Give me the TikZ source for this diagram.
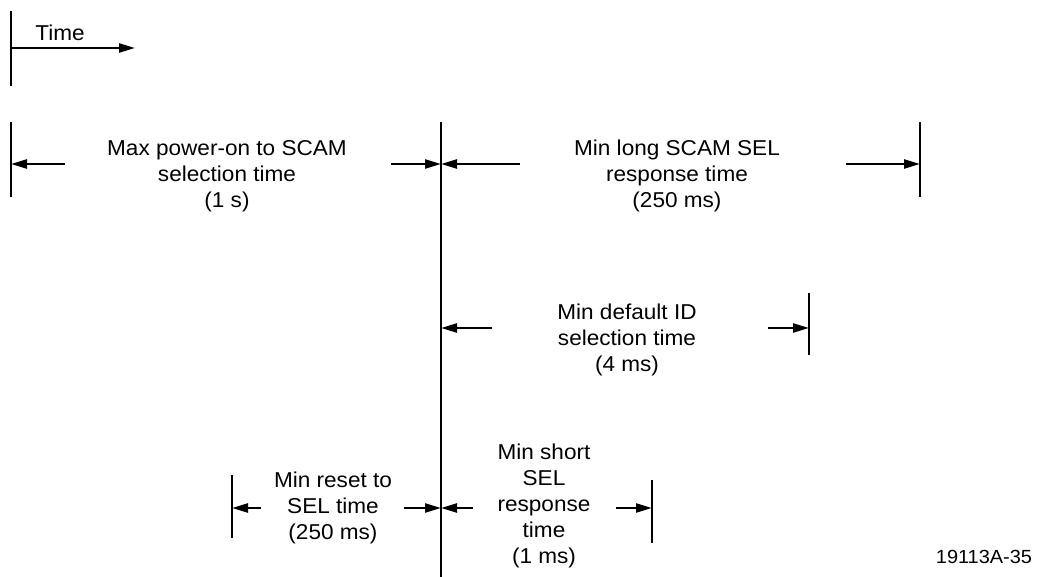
\documentclass[tikz,border=0pt]{standalone}
\usepackage{fontspec}
\setmainfont{Liberation Sans}[FakeStretch=1.05]
\usetikzlibrary{arrows.meta}
\begin{document}
\begin{tikzpicture}[x=1pt,y=-1pt,
  bar/.style={line width=2.8pt},
  dim/.style={line width=2.4pt,-{Triangle[length=16pt,width=9pt]}},
  lbl/.style={align=center,font=\fontsize{21.5}{26}\selectfont,inner sep=0pt}]
\useasboundingbox (0,0) rectangle (1037,577);
% time axis
\coordinate (t0) at (11,11); \coordinate (t1) at (11,86);
\coordinate (ta) at (11,48); \coordinate (tb) at (135,48);
\draw[bar] (t0) -- (t1);
\draw[dim] (ta) -- (tb);
\node[lbl] (time) at (60,33) {Time};
% bars
\coordinate (m0) at (441,122); \coordinate (m1) at (441,577);
\draw[bar] (m0) -- (m1);
\coordinate (l0) at (11,122); \coordinate (l1) at (11,197);
\draw[bar] (l0) -- (l1);
\coordinate (r0) at (920,122); \coordinate (r1) at (920,197);
\draw[bar] (r0) -- (r1);
\coordinate (d0) at (809,293); \coordinate (d1) at (809,355);
\draw[bar] (d0) -- (d1);
\coordinate (b0) at (232,475); \coordinate (b1) at (232,538);
\draw[bar] (b0) -- (b1);
\coordinate (c0) at (652,480); \coordinate (c1) at (652,543);
\draw[bar] (c0) -- (c1);
% row 1
\coordinate (A1) at (65,164); \coordinate (AL) at (11,164);
\coordinate (A2) at (391,164); \coordinate (AM) at (441,164);
\draw[dim] (A1) -- (AL);
\draw[dim] (A2) -- (AM);
\node[lbl] (t1lbl) at (227,176) {Max power-on to SCAM\\selection time\\(1 s)};
\coordinate (B1) at (520,164); \coordinate (B2) at (846,164); \coordinate (BR) at (920,164);
\draw[dim] (B1) -- (AM);
\draw[dim] (B2) -- (BR);
\node[lbl] (t2lbl) at (677,176) {Min long SCAM SEL\\response time\\(250 ms)};
% row 2
\coordinate (C1) at (492,328); \coordinate (CM) at (441,328);
\coordinate (C2) at (768,328); \coordinate (CR) at (809,328);
\draw[dim] (C1) -- (CM);
\draw[dim] (C2) -- (CR);
\node[lbl] (t3lbl) at (627,340) {Min default ID\\selection time\\(4 ms)};
% row 3
\coordinate (D1) at (261,508); \coordinate (DL) at (232,508);
\coordinate (D2) at (404,508); \coordinate (DM) at (441,508);
\coordinate (E1) at (473,508); \coordinate (E2) at (616,508); \coordinate (ER) at (652,508);
\draw[dim] (D1) -- (DL);
\draw[dim] (D2) -- (DM);
\draw[dim] (E1) -- (DM);
\draw[dim] (E2) -- (ER);
\node[lbl] (t4lbl) at (333,508) {Min reset to\\SEL time\\(250 ms)};
\node[lbl] (t5lbl) at (544,506) {Min short\\SEL\\response\\time\\(1 ms)};
\node[font=\fontsize{19}{22}\selectfont,inner sep=0pt] (fig) at (984,557) {19113A-35};
\end{tikzpicture}
\end{document}
